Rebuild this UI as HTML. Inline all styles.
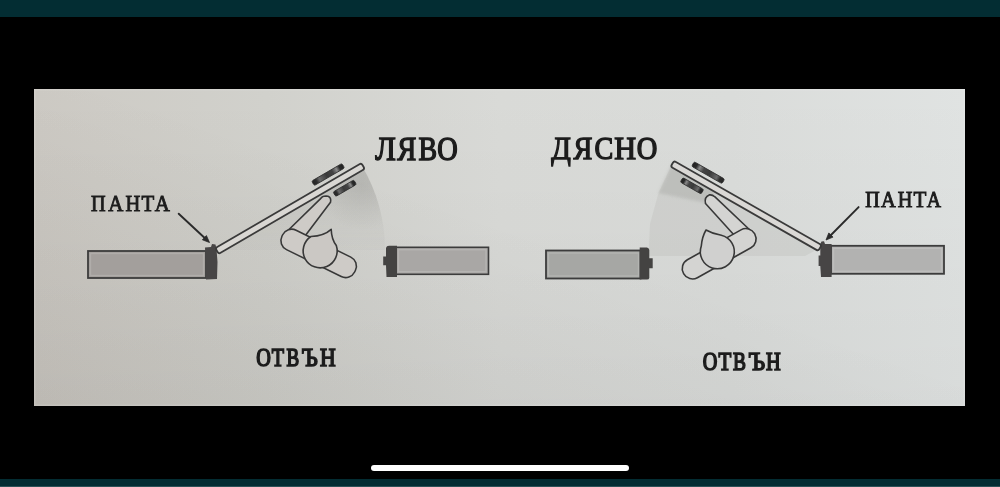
<!DOCTYPE html>
<html><head><meta charset="utf-8">
<style>
html,body{margin:0;padding:0;}
body{width:1000px;height:487px;background:#000;position:relative;overflow:hidden;font-family:"Liberation Serif",serif;}
.bar{position:absolute;left:0;width:1000px;background:#032d33;}
.paper{position:absolute;left:34px;top:89px;width:931px;height:317px;box-shadow:inset 0 0 0 1.5px rgba(255,255,255,0.12);
 background:linear-gradient(to top right,rgba(20,12,4,0.055) 0%,rgba(0,0,0,0) 55%),linear-gradient(180deg,rgba(0,0,0,0) 0%,rgba(0,0,0,0.035) 100%),linear-gradient(90deg,#cdcac4 0%,#d1d1cc 25%,#d9dad7 50%,#dadcda 75%,#e0e3e2 100%);}
.home{position:absolute;left:371px;top:465px;width:258px;height:6px;border-radius:3px;background:#fff;}
svg{position:absolute;left:0;top:0;}
.t{font-family:"Liberation Serif",serif;fill:#1c1c1c;stroke:#1c1c1c;stroke-width:0.8px;vector-effect:non-scaling-stroke;}
</style></head><body>
<div class="bar" style="top:0;height:17px"></div>
<div class="paper"></div>
<div class="bar" style="top:479px;height:8px"></div>
<div style="position:absolute;left:0;top:486px;width:1000px;height:1px;background:#2b5257"></div>
<div class="home"></div>
<svg width="1000" height="487" viewBox="0 0 1000 487">
  <defs>
    <linearGradient id="secL" x1="0" y1="0" x2="0" y2="1">
      <stop offset="0" stop-color="#a0a09c" stop-opacity="0.32"/>
      <stop offset="0.5" stop-color="#a8a8a4" stop-opacity="0.18"/>
      <stop offset="1" stop-color="#b0b0ac" stop-opacity="0.1"/>
    </linearGradient>
    <radialGradient id="blobL" gradientUnits="userSpaceOnUse" cx="362" cy="185" r="45">
      <stop offset="0" stop-color="#8c8c88" stop-opacity="0.28"/>
      <stop offset="1" stop-color="#8c8c88" stop-opacity="0"/>
    </radialGradient>
    <radialGradient id="blobR" gradientUnits="userSpaceOnUse" cx="675" cy="182" r="40">
      <stop offset="0" stop-color="#8c8c88" stop-opacity="0.3"/>
      <stop offset="1" stop-color="#8c8c88" stop-opacity="0"/>
    </radialGradient>
    <linearGradient id="plate" x1="0" y1="0" x2="1" y2="0">
      <stop offset="0" stop-color="#252525"/>
      <stop offset="0.12" stop-color="#2e2e2e"/>
      <stop offset="0.22" stop-color="#6a6a6a"/>
      <stop offset="0.45" stop-color="#3a3a3a"/>
      <stop offset="0.65" stop-color="#444"/>
      <stop offset="0.78" stop-color="#8a8a8a"/>
      <stop offset="0.88" stop-color="#2a2a2a"/>
      <stop offset="1" stop-color="#222"/>
    </linearGradient>
  </defs>
  <g style="filter:blur(0.5px)">
  <!-- ===== LEFT DIAGRAM ===== -->
  <path d="M217 250 L362 166 A167 167 0 0 1 385 250 Z" fill="url(#secL)"/>
  <path d="M217 250 L362 166 A167 167 0 0 1 385 250 Z" fill="url(#blobL)"/>
  <!-- left wall -->
  <rect x="88" y="251" width="118" height="27" fill="#a39f9c" stroke="#3c3c3c" stroke-width="1.8"/>
  <rect x="90.5" y="253.5" width="113" height="22" fill="none" stroke="#fff" stroke-opacity="0.15" stroke-width="1.4"/>
  <path d="M205 247.5 L211 247 L212 244 L215.5 244.5 L216.5 249 L217.5 262 L217 279 L206 279.5 Z" fill="#474545"/>
  <!-- arrow -->
  <line x1="178.7" y1="213.7" x2="205" y2="238.3" stroke="#2a2a2a" stroke-width="1.9" stroke-linecap="round"/>
  <path d="M209.5 242.5 L202.4 239.8 L206.4 235.6 Z" fill="#2a2a2a" stroke="#2a2a2a" stroke-width="0.8" stroke-linejoin="round"/>
  <!-- door -->
  <g transform="translate(217 251) rotate(-30.2)">
    <rect x="0" y="-3.4" width="169" height="6.8" rx="2.2" fill="#d9d7d3" stroke="#3a3a3a" stroke-width="1.8"/>
    <rect x="117" y="-12.8" width="35" height="5.2" rx="1.5" fill="url(#plate)" stroke="#2e2e2e" stroke-width="0.8"/>
    <rect x="130" y="7.4" width="24" height="5.2" rx="1.5" fill="url(#plate)" stroke="#2e2e2e" stroke-width="0.8"/>
  </g>
  <!-- handle neck -->
  <path d="M285.4 233 L320.6 198.6 Q322 196 326 196 L328 196.2 Q331.5 197.5 330.5 202.3 L302 240 Z" fill="#cecbc7" stroke="#383838" stroke-width="1.6" stroke-linejoin="round"/>
  <!-- lever -->
  <g transform="translate(286.8 237.7) rotate(26.2)">
    <rect x="-5" y="-10.85" width="81" height="21.7" rx="10" fill="#cecbc7" stroke="#383838" stroke-width="1.6"/>
  </g>
  <!-- rosette -->
  <path d="M331.2 229.4 Q331.5 239 336.3 245.5 A17 17 0 1 1 311 236.5 Q324 236 331.2 229.4 Z" fill="#cbc8c4" stroke="#383838" stroke-width="1.6" stroke-linejoin="round"/>
  <!-- right wall -->
  <rect x="396" y="247.3" width="92.5" height="27" fill="#a9a7a5" stroke="#3c3c3c" stroke-width="1.6"/>
  <rect x="398.5" y="249.7" width="87.5" height="22" fill="none" stroke="#fff" stroke-opacity="0.15" stroke-width="1.4"/>
  <path d="M386 248 Q386.5 245.8 389 245.8 L397 245.8 L397 277 L386.5 277 L386 265.3 L383.2 265.3 L383.2 256.5 L386 256.5 Z" fill="#444342"/>

  <!-- ===== RIGHT DIAGRAM ===== -->
  <path d="M820 248 L672 164 L658.5 193 L650 224 L648.6 256 L805 256 Z" fill="#a8a8a4" fill-opacity="0.2"/>
  <path d="M672 164 L658.5 193 L706 203 L716 190 Z" fill="#8c8c88" fill-opacity="0.25" style="filter:blur(1.5px)"/>
  <rect x="546" y="250.5" width="94.5" height="28" fill="#a6a7a4" stroke="#3c3c3c" stroke-width="1.8"/>
  <rect x="548.5" y="253" width="90" height="23" fill="none" stroke="#fff" stroke-opacity="0.15" stroke-width="1.4"/>
  <path d="M639.7 247.4 L647 247.4 Q649.3 248 649.3 250 L649.3 258.2 L652.7 258.2 L652.7 268.3 L649.3 268.3 L649.3 278 Q649 279.6 647 279.6 L639.7 279.6 Z" fill="#444342"/>
  <rect x="831" y="245.8" width="113" height="28" fill="#b2b2b1" stroke="#3c3c3c" stroke-width="1.8"/>
  <rect x="833.5" y="248.3" width="108" height="23" fill="none" stroke="#fff" stroke-opacity="0.15" stroke-width="1.4"/>
  <path d="M820.3 244 L821.5 241.5 L824 241.3 L825 244 L831.6 244 L831.6 277 L821 277 L820.3 266 L818.6 266 L818.6 255.4 L820.3 255.4 Z" fill="#474545"/>
  <line x1="858.6" y1="207.1" x2="830.5" y2="235.5" stroke="#2a2a2a" stroke-width="1.9" stroke-linecap="round"/>
  <path d="M826 240 L828.8 232.9 L833 237.1 Z" fill="#2a2a2a" stroke="#2a2a2a" stroke-width="0.8" stroke-linejoin="round"/>
  <g transform="translate(820 248) rotate(-150.3)">
    <rect x="0" y="-3.4" width="170" height="6.8" rx="2.2" fill="#dad8d5" stroke="#3a3a3a" stroke-width="1.8"/>
    <rect x="117" y="7.4" width="35" height="5.2" rx="1.5" fill="url(#plate)" stroke="#2e2e2e" stroke-width="0.8"/>
    <rect x="130" y="-12" width="24" height="5.2" rx="1.5" fill="url(#plate)" stroke="#2e2e2e" stroke-width="0.8"/>
  </g>
  <path d="M705.5 203.5 Q704 197 709.2 194.9 Q712.5 194.5 714.7 196.7 L752 232 L740.4 242 Z" fill="#d4d4d2" stroke="#383838" stroke-width="1.6" stroke-linejoin="round"/>
  <g transform="translate(745.75 238.9) rotate(150.8)">
    <rect x="-10.25" y="-10.25" width="81.4" height="20.5" rx="10" fill="#d4d4d2" stroke="#383838" stroke-width="1.6"/>
  </g>
  <path d="M706 230 Q713 234 721.3 235.2 A17 17 0 1 1 701.3 246 Q702 237 706 230 Z" fill="#d0d0cf" stroke="#383838" stroke-width="1.6" stroke-linejoin="round"/>

  <!-- pantaL -->
  <text class="t" style="stroke-width:0.9px" font-size="23.44" transform="translate(91.11 211.00) scale(0.861 1)">П</text>
  <text class="t" style="stroke-width:0.9px" font-size="23.44" transform="translate(108.33 211.00) scale(0.891 1)">А</text>
  <text class="t" style="stroke-width:0.9px" font-size="23.44" transform="translate(125.40 211.00) scale(0.874 1)">Н</text>
  <text class="t" style="stroke-width:0.9px" font-size="23.44" transform="translate(141.52 211.00) scale(0.889 1)">Т</text>
  <text class="t" style="stroke-width:0.9px" font-size="23.44" transform="translate(154.73 211.00) scale(0.891 1)">А</text>
  <!-- pantaR -->
  <text class="t" style="stroke-width:0.9px" font-size="22.68" transform="translate(865.18 207.30) scale(0.882 1)">П</text>
  <text class="t" style="stroke-width:0.9px" font-size="22.68" transform="translate(880.97 207.30) scale(0.898 1)">А</text>
  <text class="t" style="stroke-width:0.9px" font-size="22.68" transform="translate(897.67 207.30) scale(0.896 1)">Н</text>
  <text class="t" style="stroke-width:0.9px" font-size="22.68" transform="translate(913.40 207.30) scale(0.930 1)">Т</text>
  <text class="t" style="stroke-width:0.9px" font-size="22.68" transform="translate(926.65 207.30) scale(0.870 1)">А</text>
  <!-- lyavo -->
  <text class="t" style="stroke-width:1.3px" font-size="32.76" transform="translate(375.27 159.50) scale(0.925 1)">Л</text>
  <text class="t" style="stroke-width:1.3px" font-size="32.76" transform="translate(397.35 159.50) scale(0.870 1)">Я</text>
  <text class="t" style="stroke-width:1.3px" font-size="32.76" transform="translate(418.49 159.50) scale(0.851 1)">В</text>
  <text class="t" style="stroke-width:1.3px" font-size="32.76" transform="translate(437.26 159.50) scale(0.866 1)">О</text>
  <!-- dyasno -->
  <text class="t" style="stroke-width:1.3px" font-size="32.15" transform="translate(551.35 158.60) scale(0.894 1)">Д</text>
  <text class="t" style="stroke-width:1.3px" font-size="32.15" transform="translate(573.45 158.60) scale(0.877 1)">Я</text>
  <text class="t" style="stroke-width:1.3px" font-size="32.15" transform="translate(594.61 158.60) scale(0.875 1)">С</text>
  <text class="t" style="stroke-width:1.3px" font-size="32.15" transform="translate(614.18 158.60) scale(0.942 1)">Н</text>
  <text class="t" style="stroke-width:1.3px" font-size="32.15" transform="translate(636.70 158.60) scale(0.887 1)">О</text>
  <!-- otvanL -->
  <text class="t" style="stroke-width:1.5px" font-size="25.81" transform="translate(256.20 365.60) scale(0.783 1)">О</text>
  <text class="t" style="stroke-width:1.5px" font-size="25.81" transform="translate(271.85 365.60) scale(0.779 1)">Т</text>
  <text class="t" style="stroke-width:1.5px" font-size="25.81" transform="translate(286.54 365.60) scale(0.737 1)">В</text>
  <text class="t" style="stroke-width:1.5px" font-size="25.81" transform="translate(301.86 365.60) scale(0.881 1)">Ъ</text>
  <text class="t" style="stroke-width:1.5px" font-size="25.81" transform="translate(320.08 365.60) scale(0.840 1)">Н</text>
  <!-- otvanR -->
  <text class="t" style="stroke-width:1.5px" font-size="25.96" transform="translate(702.65 369.60) scale(0.779 1)">О</text>
  <text class="t" style="stroke-width:1.5px" font-size="25.96" transform="translate(718.54 369.60) scale(0.807 1)">Т</text>
  <text class="t" style="stroke-width:1.5px" font-size="25.96" transform="translate(733.11 369.60) scale(0.749 1)">В</text>
  <text class="t" style="stroke-width:1.5px" font-size="25.96" transform="translate(748.46 369.60) scale(0.909 1)">Ъ</text>
  <text class="t" style="stroke-width:1.5px" font-size="25.96" transform="translate(766.02 369.60) scale(0.782 1)">Н</text>
  </g>
</svg>
</body></html>
